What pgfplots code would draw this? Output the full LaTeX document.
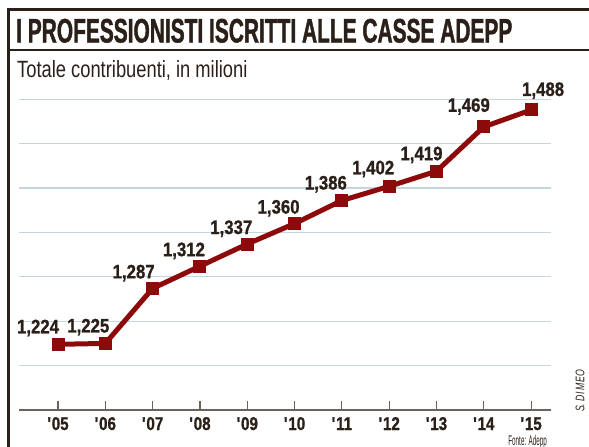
\documentclass[border=0pt]{standalone}
\usepackage{fontspec}
\usepackage{pgfplots}
\usepackage{pgfplotstable}
\pgfplotsset{compat=1.18}
\setmainfont{Liberation Sans}
\newfontfamily\condTitle[FakeStretch=0.615, FakeBold=1.2]{Liberation Sans}
\newfontfamily\condSub[FakeStretch=0.78]{Liberation Sans}
\newfontfamily\condLab[FakeStretch=0.86, FakeBold=1]{Liberation Sans}
\newfontfamily\condTick[FakeStretch=0.82, FakeBold=1]{Liberation Sans}
\newfontfamily\condSrc[FakeStretch=0.45]{Liberation Sans}
\newfontfamily\condAut[FakeStretch=0.7]{Liberation Sans}
\definecolor{linered}{HTML}{8C0A0A}
\definecolor{txtdark}{HTML}{2B2019}
\definecolor{gridc}{HTML}{C5D6DE}
\definecolor{axisc}{HTML}{6B625A}
\definecolor{framec}{HTML}{2B2019}

\pgfplotstableread{
x y lab dx dy
0 1224 1,224 -20 11
1 1225 1,225 -17 11
2 1287 1,287 -19 10
3 1312 1,312 -16 10
4 1337 1,337 -16 10
5 1360 1,360 -16 10
6 1386 1,386 -16 11
7 1402 1,402 -16 12
8 1419 1,419 -15 11
9 1469 1,469 -15 15
10 1488 1,488 12 14
}\datatab

\begin{document}
\begin{tikzpicture}
\path[use as bounding box] (0pt,0pt) rectangle (589pt,-447pt);
% frame
\draw[framec, line width=2.2pt] (8.5pt,-447pt) -- (8.5pt,-9.5pt) -- (589pt,-9.5pt);
\draw[framec, line width=1.8pt] (8.5pt,-50pt) -- (589pt,-50pt);
\node[anchor=base west, inner sep=0pt, text=txtdark, font={\condTitle\bfseries\fontsize{34}{34}\selectfont}] at (16pt,-42.5pt) {I PROFESSIONISTI ISCRITTI ALLE CASSE ADEPP};
\node[anchor=base west, inner sep=0pt, text=txtdark, font={\condSub\fontsize{23.5}{24}\selectfont}] at (17pt,-77pt) {Totale contribuenti, in milioni};

\begin{axis}[
  at={(19pt,-410pt)}, anchor=south west,
  scale only axis, width=532pt, height=310.7pt,
  xmin=-0.825, xmax=10.42, ymin=1150, ymax=1500,
  axis x line=bottom, axis y line=left,
  x axis line style={-, draw=axisc, line width=1.5pt},
  y axis line style={draw=none},
  xtick={0,...,10},
  xticklabels={\textquotesingle05,\textquotesingle06,\textquotesingle07,\textquotesingle08,\textquotesingle09,\textquotesingle10,\textquotesingle11,\textquotesingle12,\textquotesingle13,\textquotesingle14,\textquotesingle15},
  xticklabel style={anchor=base, yshift=-20pt, inner sep=0pt, text=txtdark, font={\condTick\bfseries\fontsize{18.5}{19}\selectfont}},
  tick align=inside,
  major tick length=9pt,
  xtick style={draw=axisc, line width=1.2pt},
  ytick={1200,1250,...,1500},
  yticklabels={},
  ytick style={draw=none},
  ymajorgrids,
  major grid style={draw=gridc, line width=1.2pt},
  clip=false,
]
\addplot[color=linered, line width=5pt, mark=square*, mark size=6pt,
  mark options={solid, fill=linered, draw=linered, line width=0pt},
  nodes near coords, point meta=explicit symbolic,
  visualization depends on={\thisrow{dx} \as \dxv},
  visualization depends on={\thisrow{dy} \as \dyv},
  every node near coord/.append style={anchor=base, xshift=\dxv pt, yshift=\dyv pt, inner sep=0pt, text=txtdark, font={\condLab\bfseries\fontsize{19.5}{20}\selectfont}},
] table[x=x, y=y, meta=lab] {\datatab};
\end{axis}

\node[anchor=base east, inner sep=0pt, text=txtdark, font={\condSrc\fontsize{14}{14}\selectfont}] at (547pt,-445pt) {Fonte: Adepp};
\node[rotate=90, inner sep=0pt, text=txtdark, font={\condAut\itshape\fontsize{12.5}{13}\selectfont}] at (580pt,-391pt) {S. DI MEO};
\end{tikzpicture}
\end{document}
